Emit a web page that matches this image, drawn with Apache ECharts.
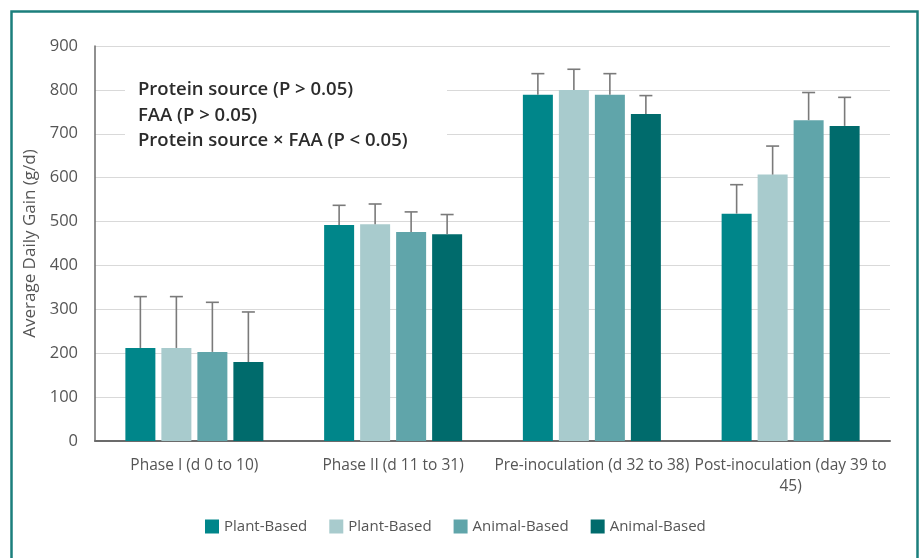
<!DOCTYPE html>
<html>
<head>
<meta charset="utf-8">
<script src="https://cdn.jsdelivr.net/npm/echarts@6/dist/echarts.min.js"></script>
<style>
  html, body { margin: 0; padding: 0; background: #fff; }
  #chart { width: 923px; height: 558px; }
</style>
</head>
<body>
<div id="chart"></div>
<script>
// Average daily gain per phase, four diet groups
const categories = ['Phase I (d 0 to 10)', 'Phase II (d 11 to 31)', 'Pre-inoculation (d 32 to 38)', 'Post-inoculation (day 39 to\n45)'];
const legendLabels = ['Plant-Based', 'Plant-Based', 'Animal-Based', 'Animal-Based'];
const seriesKeys = ['plant1', 'plant2', 'animal1', 'animal2'];
const colors = ['#00868a', '#a8cbcd', '#60a5aa', '#006b6c'];

const plant1Means = [212, 492, 789, 518];
const plant2Means = [212, 494, 800, 607];
const animal1Means = [203, 476, 789, 731];
const animal2Means = [180, 471, 745, 718];

// upper end of each error bar (mean + SE)
const plant1Upper = [329, 537, 837, 584];
const plant2Upper = [329, 540, 847, 672];
const animal1Upper = [316, 522, 837, 794];
const animal2Upper = [294, 516, 787, 783];

const yTicks = [0, 100, 200, 300, 400, 500, 600, 700, 800, 900];
const notes = ['Protein source (P > 0.05)', 'FAA (P > 0.05)', 'Protein source \u00d7 FAA (P < 0.05)'];

const means = [plant1Means, plant2Means, animal1Means, animal2Means];
const uppers = [plant1Upper, plant2Upper, animal1Upper, animal2Upper];

const BAR_W = 30;
const BAR_GAP = '20%';
const FONT = '"Open Sans", "Noto Sans", sans-serif';
const LABEL_GRAY = '#555555';

const chart = echarts.init(document.getElementById('chart'), null, { renderer: 'canvas' });

const barSeries = seriesKeys.map((key, i) => ({
  name: key,
  type: 'bar',
  data: means[i],
  barWidth: BAR_W,
  barGap: BAR_GAP,
  itemStyle: { color: colors[i] },
  z: 2
}));

// error whiskers drawn above each bar
const errorSeries = seriesKeys.map((key, i) => ({
  type: 'custom',
  name: key + '-err',
  data: categories.map((c, j) => [j, means[i][j], uppers[i][j]]),
  encode: { x: 0, y: [1, 2] },
  z: 3,
  silent: true,
  renderItem: function (params, api) {
    const catIdx = api.value(0);
    const lo = api.coord([catIdx, api.value(1)]);
    const hi = api.coord([catIdx, api.value(2)]);
    const layout = api.barLayout({ barWidth: BAR_W, barGap: BAR_GAP, count: 4 });
    const x = lo[0] + layout[i].offsetCenter;
    const cap = 6.5;
    const style = { stroke: '#7a7a7a', lineWidth: 1.6 };
    return {
      type: 'group',
      children: [
        { type: 'line', shape: { x1: x, y1: lo[1], x2: x, y2: hi[1] }, style: style },
        { type: 'line', shape: { x1: x - cap, y1: hi[1], x2: x + cap, y2: hi[1] }, style: style }
      ]
    };
  }
}));

const option = {
  backgroundColor: '#ffffff',
  animation: false,
  textStyle: { fontFamily: FONT },
  grid: { left: 95, right: 33, top: 46, bottom: 117, containLabel: false },
  legend: {
    data: seriesKeys,
    formatter: function (name) { return legendLabels[seriesKeys.indexOf(name)]; },
    bottom: 19,
    left: 200,
    icon: 'rect',
    itemWidth: 14,
    itemHeight: 14,
    itemGap: 22,
    textStyle: { color: LABEL_GRAY, fontSize: 15, fontFamily: FONT }
  },
  xAxis: {
    type: 'category',
    data: categories,
    axisLine: { show: true, lineStyle: { color: '#6b6b6b', width: 2 } },
    axisTick: { show: false },
    axisLabel: { color: LABEL_GRAY, fontSize: 15.5, margin: 14, interval: 0, lineHeight: 21, fontFamily: FONT }
  },
  yAxis: {
    type: 'value',
    min: 0,
    max: yTicks[yTicks.length - 1],
    interval: yTicks[1] - yTicks[0],
    name: 'Average Daily Gain (g/d)',
    nameLocation: 'middle',
    nameGap: 42,
    nameTextStyle: { color: LABEL_GRAY, fontSize: 17, fontFamily: FONT },
    axisLine: { show: true, lineStyle: { color: '#6b6b6b', width: 1.5 } },
    axisTick: { show: false },
    axisLabel: { color: LABEL_GRAY, fontSize: 16.5, margin: 17, fontFamily: FONT },
    splitLine: { show: true, lineStyle: { color: '#d9d9d9', width: 1.2 } }
  },
  graphic: [
    {
      type: 'rect',
      left: 9, top: 9,
      shape: { width: 906, height: 570 },
      style: { fill: 'none', stroke: '#1b7f7c', lineWidth: 2.5 },
      z: 0,
      silent: true
    },
    {
      type: 'rect',
      left: 125, top: 64,
      shape: { width: 322, height: 96 },
      style: { fill: '#ffffff' },
      z: 10,
      silent: true
    },
    {
      type: 'text',
      left: 138, top: 77,
      z: 11,
      style: {
        text: notes.join('\n'),
        fill: '#2b2b2b',
        font: '600 18.5px ' + FONT,
        lineHeight: 25.5
      }
    }
  ],
  series: barSeries.concat(errorSeries)
};

chart.setOption(option);
</script>
</body>
</html>
